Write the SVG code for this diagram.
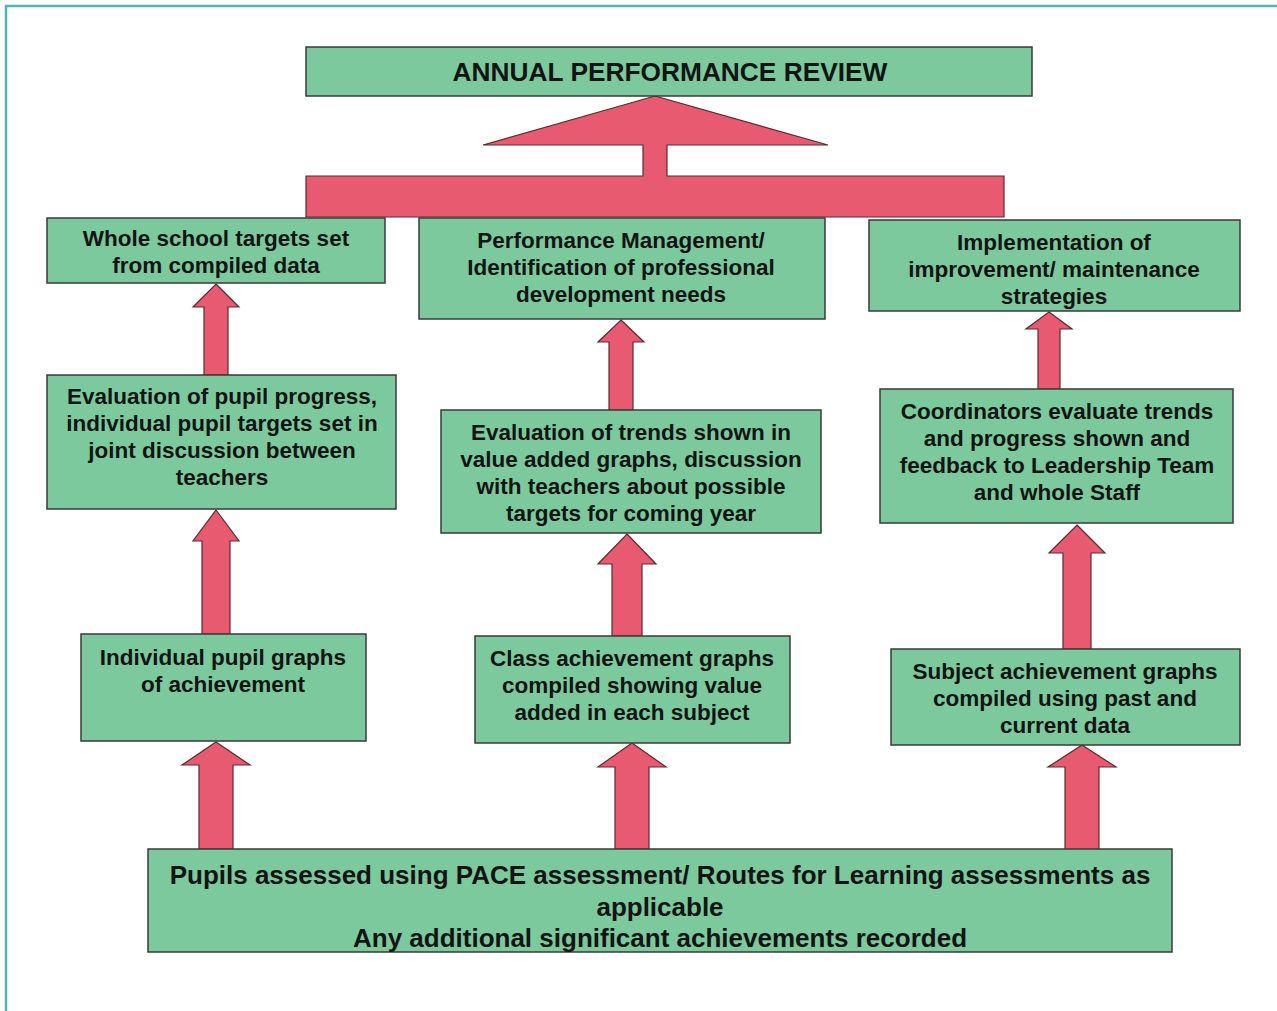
<svg xmlns="http://www.w3.org/2000/svg" width="1277" height="1011" viewBox="0 0 1277 1011">
<defs>
<style>
.box{fill:#7bc99c;stroke:#3a3a3a;stroke-width:1.5}
.arr{fill:#e85a6f;stroke:#5a2a30;stroke-width:1.2;stroke-linejoin:miter}
.t{font-family:"Liberation Sans",Arial,sans-serif;font-weight:bold;font-size:22.5px;fill:#141414;text-anchor:middle}
.tb{font-size:26px}
.tt{font-size:26.3px}
</style>
</defs>
<rect width="1277" height="1011" fill="#ffffff"/>
<path d="M6,1011 V6 H1277" fill="none" stroke="#4dbab2" stroke-width="2.5"/>
<g id="connectors">
<polygon class="arr" points="655,96 828,145 667,145 667,176 1004,176 1004,217 306,217 306,176 643,176 643,145 483,145"/>
<polygon class="arr" points="216,284 239,307 228,307 228,375 204,375 204,307 193,307"/>
<polygon class="arr" points="216,510 239,541 230,541 230,634 202,634 202,541 193,541"/>
<polygon class="arr" points="216,742 250,765 233,765 233,849 199,849 199,765 182,765"/>
<polygon class="arr" points="621,320 644,342 633,342 633,410 609,410 609,342 598,342"/>
<polygon class="arr" points="627,534 656,564 642,564 642,636 612,636 612,564 598,564"/>
<polygon class="arr" points="632,743 666,767 649,767 649,849 615,849 615,767 598,767"/>
<polygon class="arr" points="1049,312 1072,329 1060,329 1060,389 1038,389 1038,329 1026,329"/>
<polygon class="arr" points="1077,525 1105,553 1091,553 1091,649 1063,649 1063,553 1049,553"/>
<polygon class="arr" points="1082,745 1116,767 1099,767 1099,850 1065,850 1065,767 1048,767"/>
</g>
<g id="n-annual">
<rect class="box" x="306" y="47" width="726" height="49"/>
<text class="t tt" x="670" y="81">ANNUAL PERFORMANCE REVIEW</text>
</g>
<g id="n-whole-school">
<rect class="box" x="47" y="218" width="338" height="65"/>
<text class="t" x="216" y="246">Whole school targets set</text>
<text class="t" x="216" y="273">from compiled data</text>
</g>
<g id="n-performance">
<rect class="box" x="419" y="218" width="406" height="101"/>
<text class="t" x="621" y="248">Performance Management/</text>
<text class="t" x="621" y="275">Identification of professional</text>
<text class="t" x="621" y="302">development needs</text>
</g>
<g id="n-implementation">
<rect class="box" x="869" y="220" width="371" height="91"/>
<text class="t" x="1054" y="250">Implementation of</text>
<text class="t" x="1054" y="277">improvement/ maintenance</text>
<text class="t" x="1054" y="304">strategies</text>
</g>
<g id="n-eval-pupil">
<rect class="box" x="47" y="375" width="349" height="134"/>
<text class="t" x="222" y="404">Evaluation of pupil progress,</text>
<text class="t" x="222" y="431">individual pupil targets set in</text>
<text class="t" x="222" y="458">joint discussion between</text>
<text class="t" x="222" y="485">teachers</text>
</g>
<g id="n-eval-trends">
<rect class="box" x="441" y="410" width="380" height="123"/>
<text class="t" x="631" y="440">Evaluation of trends shown in</text>
<text class="t" x="631" y="467">value added graphs, discussion</text>
<text class="t" x="631" y="494">with teachers about possible</text>
<text class="t" x="631" y="521">targets for coming year</text>
</g>
<g id="n-coordinators">
<rect class="box" x="880" y="389" width="353" height="134"/>
<text class="t" x="1057" y="419">Coordinators evaluate trends</text>
<text class="t" x="1057" y="446">and progress shown and</text>
<text class="t" x="1057" y="473">feedback to Leadership Team</text>
<text class="t" x="1057" y="500">and whole Staff</text>
</g>
<g id="n-individual">
<rect class="box" x="81" y="634" width="285" height="107"/>
<text class="t" x="223" y="665">Individual pupil graphs</text>
<text class="t" x="223" y="692">of achievement</text>
</g>
<g id="n-class">
<rect class="box" x="475" y="636" width="315" height="107"/>
<text class="t" x="632" y="666">Class achievement graphs</text>
<text class="t" x="632" y="693">compiled showing value</text>
<text class="t" x="632" y="720">added in each subject</text>
</g>
<g id="n-subject">
<rect class="box" x="891" y="649" width="349" height="96"/>
<text class="t" x="1065" y="679">Subject achievement graphs</text>
<text class="t" x="1065" y="706">compiled using past and</text>
<text class="t" x="1065" y="733">current data</text>
</g>
<g id="n-pupils">
<rect class="box" x="148" y="849" width="1024" height="103"/>
<text class="t tb" x="660" y="884">Pupils assessed using PACE assessment/ Routes for Learning assessments as</text>
<text class="t tb" x="660" y="916">applicable</text>
<text class="t tb" x="660" y="947">Any additional significant achievements recorded</text>
</g>
</svg>
